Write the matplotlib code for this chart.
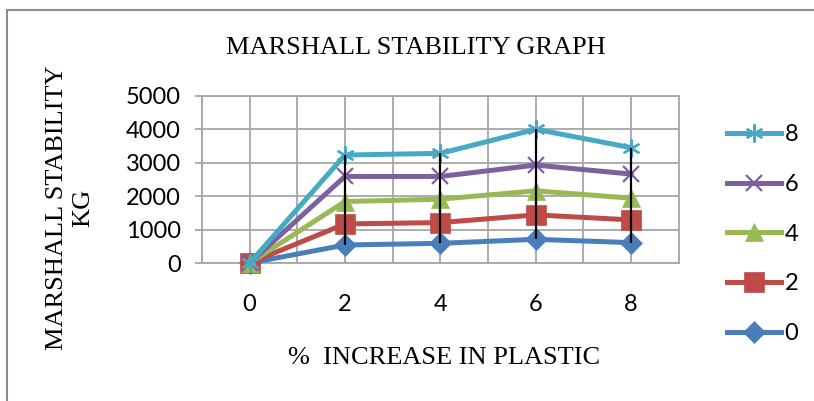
import numpy as np
import matplotlib.pyplot as plt
from matplotlib.patches import Rectangle

# x categories (% increase in plastic)
plastic = [0, 2, 4, 6, 8]

# individual series values (stacked line chart in the original)
s0 = [0, 540, 590, 710, 610]
s2 = [0, 630, 620, 730, 680]
s4 = [0, 670, 700, 720, 650]
s6 = [0, 750, 680, 770, 720]
s8 = [0, 640, 690, 1070, 790]

series_names = ['0', '2', '4', '6', '8']
series_vals = [s0, s2, s4, s6, s8]
colors = ['#4A7EBB', '#BE4B48', '#98B954', '#7D60A0', '#46AAC5']
markers = ['D', 's', '^', 'x', (6, 2, 0)]
msizes = [11, 14, 13, 12, 13]

stacked = np.cumsum(np.array(series_vals), axis=0)

fig = plt.figure(figsize=(8.14, 4.01), dpi=100)
ax = fig.add_axes([0.248, 0.344, 0.586, 0.417])

# chart area border
fig.patches.append(Rectangle((7 / 814, -0.1), 1.2, 1 - 10 / 401 + 0.1,
                             transform=fig.transFigure, fill=False,
                             edgecolor='#8c8c8c', linewidth=1.5))

lines = []
for i, name in enumerate(series_names):
    thin = markers[i] in ('x', (6, 2, 0))
    ln, = ax.plot(plastic, stacked[i], color=colors[i], linewidth=3.6,
                  marker=markers[i], markersize=msizes[i],
                  markeredgewidth=1.6 if thin else 0.5,
                  markeredgecolor=colors[i], label=name, zorder=3 + i,
                  clip_on=False)
    lines.append(ln)

# high-low lines
ax.vlines(plastic[1:], stacked[0][1:], stacked[-1][1:], color='black',
          linewidth=1.6, zorder=10)

ax.set_xlim(-1, 9)
ax.set_ylim(0, 5000)
ax.set_xticks(plastic)
ax.set_xticks(np.arange(-1, 10, 1), minor=True)
ax.set_yticks(np.arange(0, 5001, 1000))
ax.grid(True, which='both', axis='x', color='#a6a6a6', linewidth=1.3)
ax.grid(True, which='major', axis='y', color='#a6a6a6', linewidth=1.3)
ax.set_axisbelow(True)
for sp in ax.spines.values():
    sp.set_color('#a6a6a6')
    sp.set_linewidth(1.3)
ax.tick_params(axis='x', which='both', length=0, pad=22)
ax.tick_params(axis='y', length=5, color='#a6a6a6', width=1.3, pad=10)
for lab in ax.get_xticklabels() + ax.get_yticklabels():
    lab.set_fontfamily('Lato')
    lab.set_fontsize(17)

fig.text(0.511, 0.880, 'MARSHALL STABILITY GRAPH', ha='center', va='center',
         fontfamily='Liberation Serif', fontsize=19)
fig.text(0.546, 0.107, '%  INCREASE IN PLASTIC', ha='center', va='center',
         fontfamily='Liberation Serif', fontsize=19)
fig.text(0.086, 0.481, 'MARSHALL STABILITY\nKG', ha='center', va='center',
         rotation=90, fontfamily='Liberation Serif', fontsize=19,
         linespacing=1.25)

handles = lines[::-1]
leg = fig.legend(handles, [h.get_label() for h in handles],
                 loc='center left', bbox_to_anchor=(0.893, 0.416),
                 frameon=False, handlelength=2.3, labelspacing=1.22,
                 handletextpad=0.15, borderpad=0, borderaxespad=0,
                 prop={'family': 'Lato', 'size': 17})

fig.savefig('out.png', dpi=100)
